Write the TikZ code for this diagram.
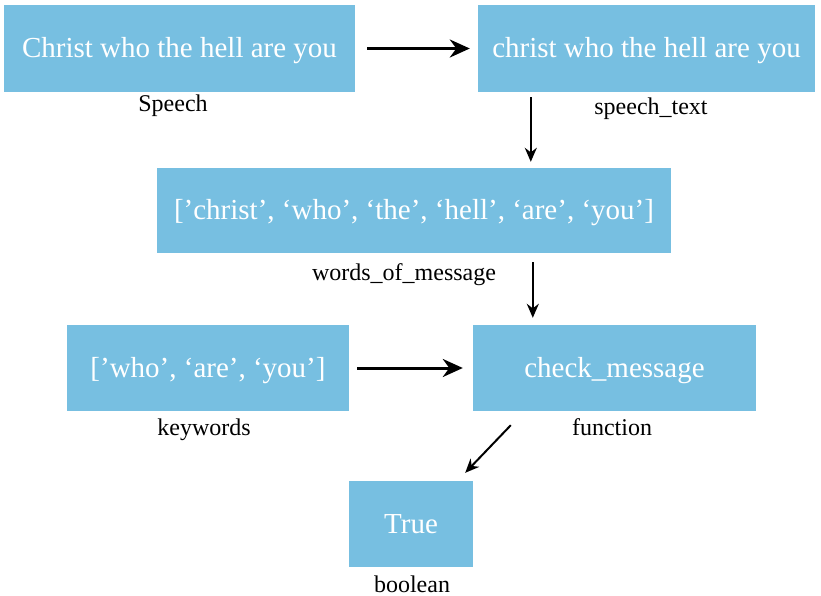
\documentclass[tikz,border=0pt]{standalone}
\usepackage{fontspec}
\setmainfont{Liberation Serif}
\usetikzlibrary{arrows.meta}
\definecolor{boxblue}{RGB}{119,191,225}
\tikzset{
  box/.style={fill=boxblue, draw=none, text=white, inner sep=0pt, font=\fontsize{29}{33}\selectfont, text height=20pt, text depth=2pt},
  lbl/.style={inner sep=0pt, font=\fontsize{24}{28}\selectfont, text height=16pt, text depth=0pt},
  arr/.style={draw=black, line width=3pt, -{Stealth[length=20pt,width=18pt]}},
  arrthin/.style={draw=black, line width=2pt, -{Stealth[length=14pt,width=12pt]}}
}
\begin{document}
\begin{tikzpicture}[x=1pt,y=-1pt]
\useasboundingbox (0,0) rectangle (821,596);
\node[box, minimum width=351, minimum height=87] (b1) at (179.5,48.5) {Christ who the hell are you};
\node[box, minimum width=337, minimum height=87] (b2) at (646.5,48.5) {christ who the hell are you};
\node[box, minimum width=514, minimum height=85] (b3) at (414,210.5) {[’christ’, ‘who’, ‘the’, ‘hell’, ‘are’, ‘you’]};
\node[box, minimum width=282, minimum height=86] (b4) at (208,368) {[’who’, ‘are’, ‘you’]};
\node[box, minimum width=283, minimum height=86] (b5) at (614.5,368) {check\_message};
\node[box, minimum width=124, minimum height=86] (b6) at (411,524) {True};
\node[lbl] (l1) at (173,104) {Speech};
\node[lbl] (l2) at (651,107) {speech\_text};
\node[lbl] (l3) at (404,272) {words\_of\_message};
\node[lbl] (l4) at (204,427) {keywords};
\node[lbl] (l5) at (612,427) {function};
\node[lbl] (l6) at (412,584) {boolean};
\draw[arr, shorten <=12pt, shorten >=8pt] (b1.east) -- (b2.west);
\draw[arr, shorten <=8pt, shorten >=10pt] (b4.east) -- (b5.west);
\coordinate (c2s) at ([xshift=53]b2.south west);
\draw[arrthin, shorten <=5pt, shorten >=6pt] (c2s) -- (c2s |- b3.north);
\coordinate (c5n) at ([xshift=60]b5.north west);
\draw[arrthin, shorten <=9pt, shorten >=7pt] (c5n |- b3.south) -- (c5n);
\coordinate (c5d) at ([shift={(38,14)}]b5.south west);
\coordinate (c6d) at ([shift={(-8,-8)}]b6.north east);
\draw[arrthin] (c5d) -- (c6d);
\end{tikzpicture}
\end{document}
